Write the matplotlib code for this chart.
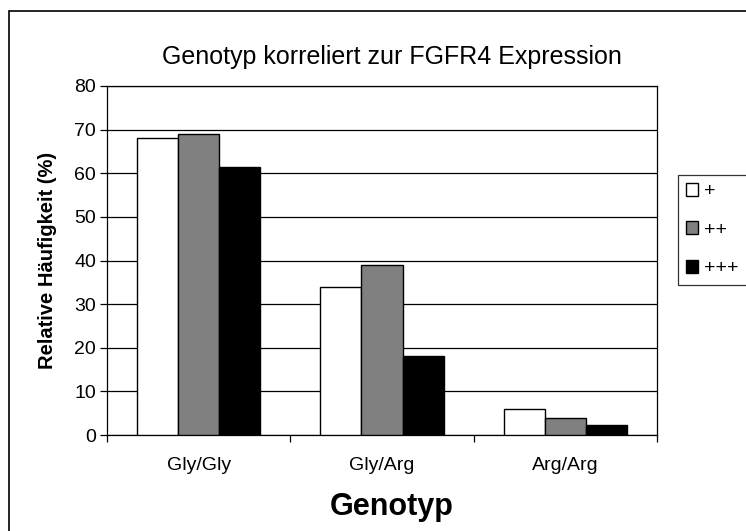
import numpy as np
import matplotlib
matplotlib.use('Agg')
import matplotlib.pyplot as plt
from matplotlib.patches import Rectangle, Patch

plt.rcParams['font.family'] = ['Liberation Sans', 'DejaVu Sans']

# Daten
genotypen = ['Gly/Gly', 'Gly/Arg', 'Arg/Arg']
serien = ['+', '++', '+++']
werte_plus = [68, 34, 6]
werte_2plus = [69, 39, 4]
werte_3plus = [61.5, 18, 2.2]
farben = ['white', '#808080', 'black']

fig = plt.figure(figsize=(7.46, 5.31), dpi=100)
ax = fig.add_axes([107/746, 1 - 435/531, 550/746, 349/531])

# Rahmen um die ganze Grafik
fig.patches.append(Rectangle((8.5/746, -0.1), 1.2, 1 - 10.5/531 + 0.1,
                             transform=fig.transFigure, fill=False,
                             edgecolor='black', linewidth=1.2))

x = np.arange(len(genotypen))
breite = 0.224
for i, (werte, farbe) in enumerate(zip([werte_plus, werte_2plus, werte_3plus], farben)):
    ax.bar(x + (i - 1) * breite, werte, breite, color=farbe,
           edgecolor='black', linewidth=1.0, zorder=3)

ax.set_xlim(-0.5, 2.5)
ax.set_ylim(0, 80)
ax.set_yticks(range(0, 81, 10))
ax.yaxis.grid(True, color='black', linewidth=0.9)
ax.set_axisbelow(True)

ax.set_xticks(x)
ax.set_xticklabels(genotypen, fontsize=14)
ax.set_xticks([-0.5, 0.5, 1.5, 2.5], minor=True)
ax.tick_params(axis='x', which='major', length=0, pad=16)
ax.tick_params(axis='x', which='minor', length=5, width=0.9, direction='out')
ax.tick_params(axis='y', labelsize=14, length=5, width=0.9, direction='out', pad=3)

for s in ax.spines.values():
    s.set_color('black')
    s.set_linewidth(0.9)

ax.set_ylabel('Relative Häufigkeit (%)', fontsize=14.5, fontweight='bold', labelpad=12)
fig.text(392/746, 1 - 57/531, 'Genotyp korreliert zur FGFR4 Expression',
         fontsize=18, ha='center', va='center')
fig.text(392/746, 1 - 507/531, 'Genotyp', fontsize=22, fontweight='bold',
         ha='center', va='center')

handles = [Patch(facecolor=f, edgecolor='black', linewidth=1.0) for f in farben]
leg = fig.legend(handles, serien, loc='center left',
                 bbox_to_anchor=(678/746, 1 - 230/531), fontsize=14,
                 frameon=True, fancybox=False, edgecolor='black',
                 handlelength=0.65, handleheight=0.65, handletextpad=0.3,
                 labelspacing=1.1, borderpad=0.4, borderaxespad=0)
leg.get_frame().set_linewidth(0.9)

fig.savefig('out.png', dpi=100)
